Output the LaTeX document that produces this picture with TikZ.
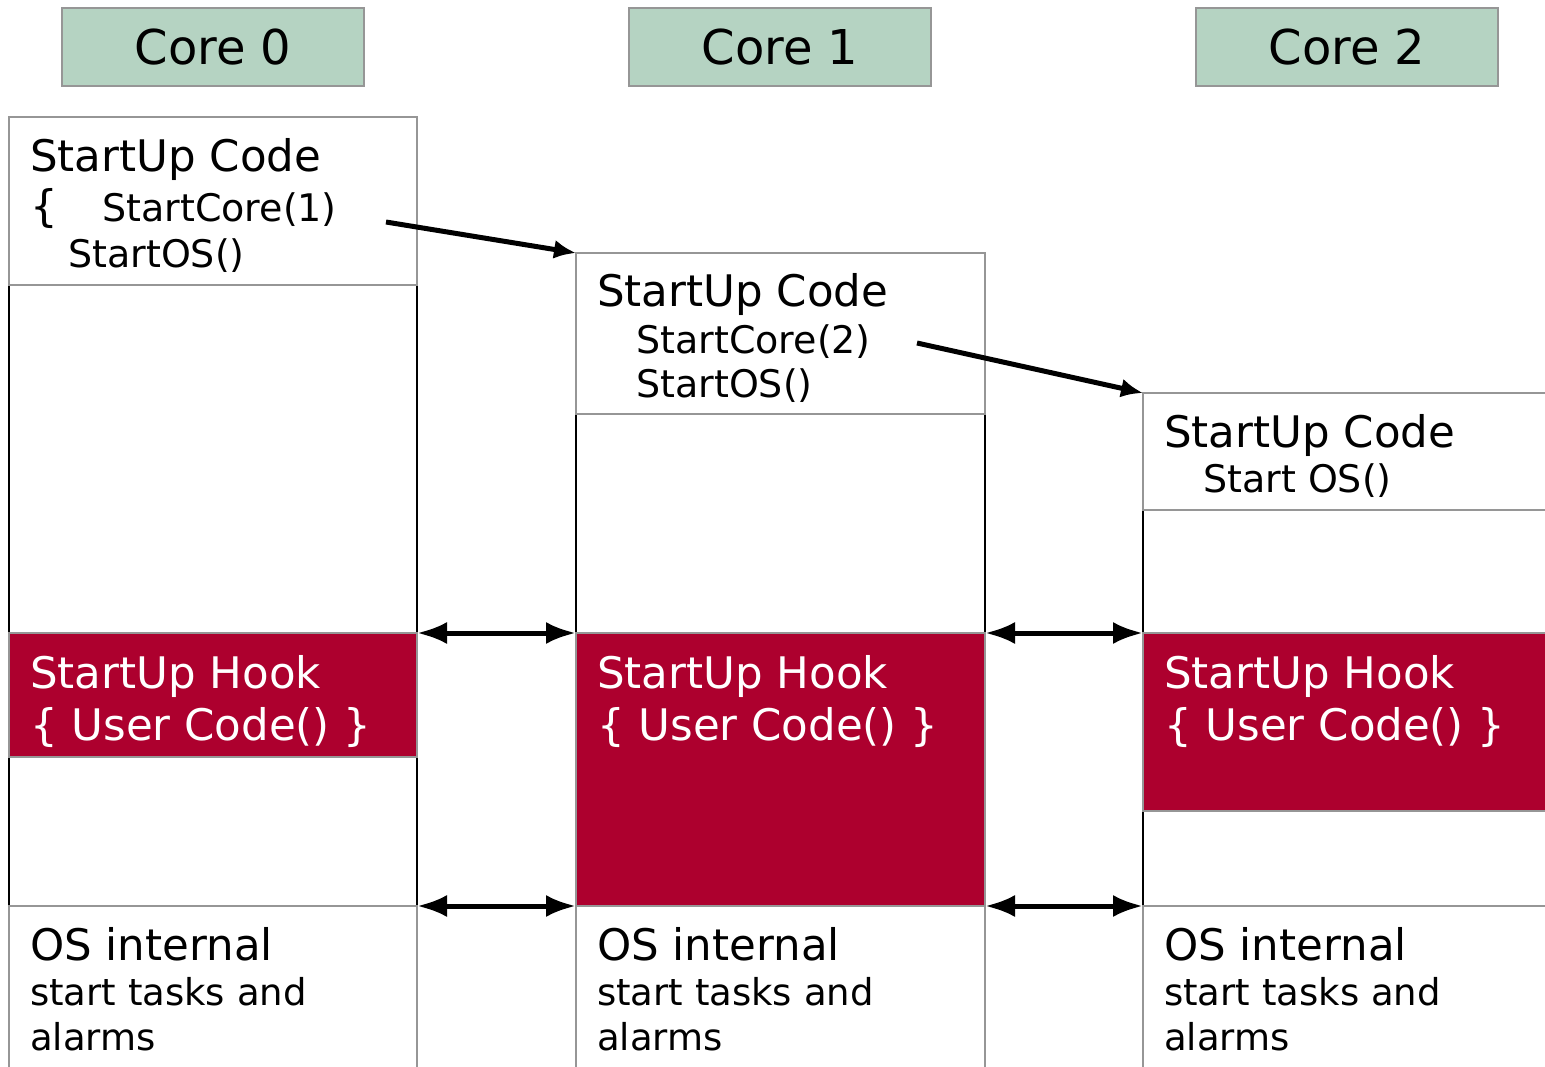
\documentclass[tikz,border=0pt]{standalone}
\usepackage{fontspec}
\setmainfont{DejaVu Sans}
\usetikzlibrary{arrows.meta}
\definecolor{coregreen}{RGB}{181,211,194}
\definecolor{hookred}{RGB}{173,0,46}
\definecolor{boxgray}{RGB}{150,150,150}
\tikzset{
  corebox/.style={draw=boxgray, line width=1.5pt, fill=coregreen, inner sep=0pt, outer sep=0pt, anchor=north west, minimum width=302pt, minimum height=78pt, font=\fontsize{48}{50}\selectfont},
  codebox/.style={draw=boxgray, line width=1.5pt, fill=white, inner sep=0pt, outer sep=0pt, anchor=north west},
  hookbox/.style={draw=boxgray, line width=1.5pt, fill=hookred, inner sep=0pt, outer sep=0pt, anchor=north west},
  side/.style={line width=1.3pt, black},
  big/.style={anchor=base west, inner sep=0pt, font=\fontsize{43.5}{46}\selectfont},
  small/.style={anchor=base west, inner sep=0pt, font=\fontsize{38}{40}\selectfont},
  smallos/.style={anchor=base west, inner sep=0pt, font=\fontsize{37}{40}\selectfont},
  callarrow/.style={line width=5pt, -{Latex[length=22pt,width=19pt]}},
  syncarrow/.style={line width=5pt, {Latex[length=30pt,width=22pt]}-{Latex[length=30pt,width=22pt]}},
}
\begin{document}
\begin{tikzpicture}[x=1pt,y=-1pt]
\useasboundingbox (0,0) rectangle (1545,1067);
\begin{scope}
\clip (0,0) rectangle (1545,1067);
% core headers
\node[corebox] (core0) at (62,8) {Core 0};
\node[corebox] (core1) at (629,8) {Core 1};
\node[corebox] (core2) at (1196,8) {Core 2};

% side lines of white regions
\draw[side] (9,285) -- (9,633) (417,285) -- (417,633);
\draw[side] (9,757) -- (9,906) (417,757) -- (417,906);
\draw[side] (576,414) -- (576,633) (985,414) -- (985,633);
\draw[side] (1143,510) -- (1143,633);
\draw[side] (1143,811) -- (1143,906);

% column 0
\node[codebox, minimum width=408pt, minimum height=168pt] (code0) at (9,117) {};
\node[hookbox, minimum width=408pt, minimum height=124pt] (hook0) at (9,633) {};
\node[codebox, minimum width=408pt, minimum height=200pt] (os0) at (9,906) {};
% column 1
\node[codebox, minimum width=409pt, minimum height=161pt] (code1) at (576,253) {};
\node[hookbox, minimum width=409pt, minimum height=273pt] (hook1) at (576,633) {};
\node[codebox, minimum width=409pt, minimum height=200pt] (os1) at (576,906) {};
% column 2
\node[codebox, minimum width=440pt, minimum height=117pt] (code2) at (1143,393) {};
\node[hookbox, minimum width=440pt, minimum height=178pt] (hook2) at (1143,633) {};
\node[codebox, minimum width=440pt, minimum height=200pt] (os2) at (1143,906) {};

% texts column 0
\node[big] (t0a) at (30,172) {StartUp Code};
\node[big] (t0b) at (30,222) {\{};
\node[small] (t0c) at (102,222) {StartCore(1)};
\node[small] (t0d) at (68,268) {StartOS()};
\node[big, text=white] (h0a) at (30,688) {StartUp Hook};
\node[big, text=white] (h0b) at (30,740) {\{ User Code() \}};
\node[big] (o0a) at (30,960) {OS internal};
\node[smallos] (o0b) at (30,1005) {start tasks and};
\node[smallos] (o0c) at (30,1050) {alarms};
% texts column 1
\node[big] (t1a) at (597,307) {StartUp Code};
\node[small] (t1c) at (636,353) {StartCore(2)};
\node[small] (t1d) at (636,397) {StartOS()};
\node[big, text=white] (h1a) at (597,688) {StartUp Hook};
\node[big, text=white] (h1b) at (597,740) {\{ User Code() \}};
\node[big] (o1a) at (597,960) {OS internal};
\node[smallos] (o1b) at (597,1005) {start tasks and};
\node[smallos] (o1c) at (597,1050) {alarms};
% texts column 2
\node[big] (t2a) at (1164,447) {StartUp Code};
\node[small] (t2d) at (1203,492) {Start OS()};
\node[big, text=white] (h2a) at (1164,688) {StartUp Hook};
\node[big, text=white] (h2b) at (1164,740) {\{ User Code() \}};
\node[big] (o2a) at (1164,960) {OS internal};
\node[smallos] (o2b) at (1164,1005) {start tasks and};
\node[smallos] (o2c) at (1164,1050) {alarms};

% arrows
\coordinate (s1) at (386,222);
\coordinate (s2) at (917,343);
\draw[callarrow] (s1) -- (code1.north west);
\draw[callarrow] (s2) -- (code2.north west);
\draw[syncarrow] (hook0.north east) -- (hook1.north west);
\draw[syncarrow] (hook1.north east) -- (hook2.north west);
\draw[syncarrow] (os0.north east) -- (os1.north west);
\draw[syncarrow] (os1.north east) -- (os2.north west);
\end{scope}
\end{tikzpicture}
\end{document}
